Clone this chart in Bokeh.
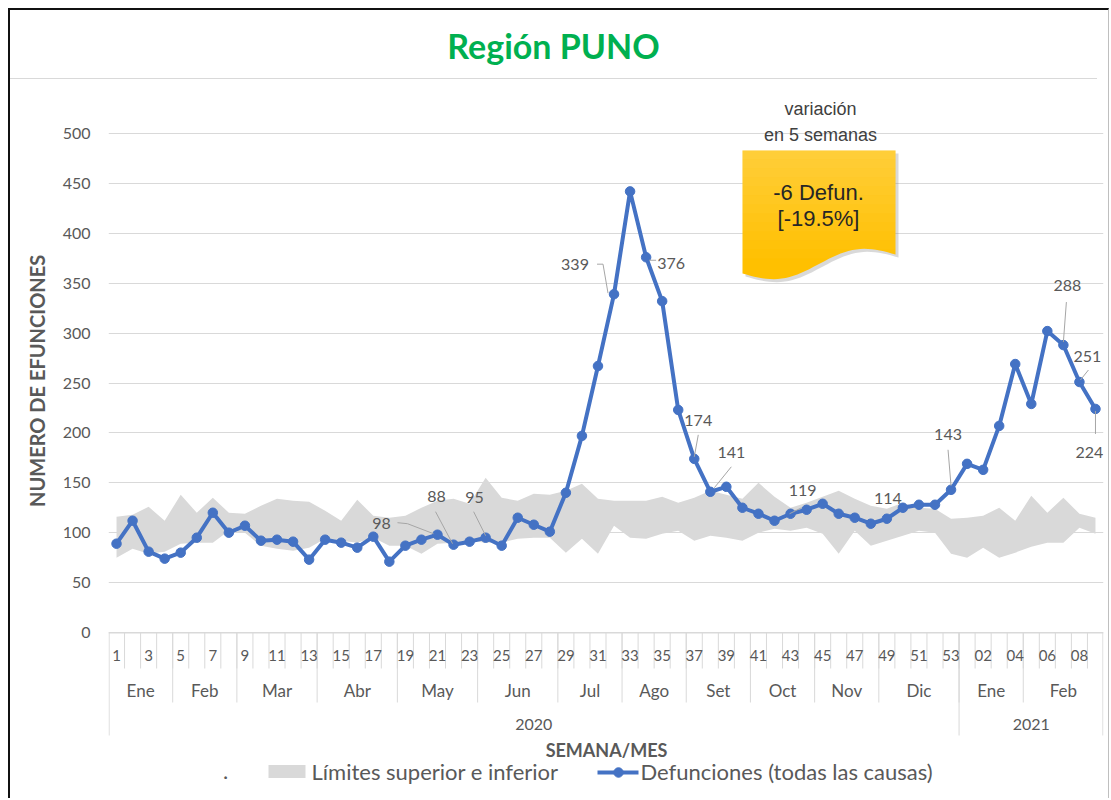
import numpy as np
from bokeh.plotting import figure
from bokeh.models import Range1d, FixedTicker, ColumnDataSource, LabelSet, Div, Title
from bokeh.layouts import column
from bokeh.embed import file_html
from bokeh.resources import INLINE
from bokeh.core.properties import value

# ---------------- data ----------------
week_labels = [str(i) for i in range(1, 54)] + ["%02d" % i for i in range(1, 10)]
month_names = ["Ene", "Feb", "Mar", "Abr", "May", "Jun", "Jul", "Ago", "Set", "Oct", "Nov", "Dic", "Ene", "Feb"]
month_weeks = [4, 4, 5, 5, 5, 5, 4, 4, 4, 4, 4, 5, 4, 5]
year_names = ["2020", "2021"]
year_weeks = [53, 9]

defunciones = [89, 112, 81, 74, 80, 95, 120, 100, 107, 92,
               93, 91, 73, 93, 90, 85, 96, 71, 87, 93,
               98, 88, 91, 95, 87, 115, 108, 101, 140, 197,
               267, 339, 442, 376, 332, 223, 174, 141, 146, 125,
               119, 112, 119, 123, 129, 119, 115, 109, 114, 125,
               128, 128, 143, 169, 163, 207, 269, 229, 302, 288,
               251, 224]
limite_superior = [116, 118, 126, 112, 138, 120, 135, 120, 119, 127,
                   134, 132, 131, 122, 112, 133, 117, 115, 117, 125,
                   132, 134, 129, 155, 135, 132, 139, 138, 142, 149,
                   134, 132, 132, 132, 136, 130, 135, 142, 138, 134,
                   150, 136, 125, 130, 136, 142, 134, 127, 124, 130,
                   125, 124, 114, 115, 117, 125, 112, 137, 120, 135,
                   119, 115]
limite_inferior = [75, 84, 79, 81, 89, 90, 90, 102, 100, 87,
                   84, 82, 85, 94, 92, 90, 95, 87, 87, 79,
                   89, 90, 92, 90, 90, 94, 95, 95, 80, 94,
                   79, 107, 95, 94, 99, 102, 92, 97, 95, 92,
                   100, 104, 102, 105, 99, 79, 102, 87, 92, 97,
                   102, 100, 79, 75, 85, 75, 80, 86, 90, 90,
                   105, 99]
labelled_weeks = [21, 22, 24, 32, 34, 37, 38, 43, 49, 53, 60, 61, 62]

title_text = "Región PUNO"
y_title = "NUMERO DE EFUNCIONES"
x_title = "SEMANA/MES"
legend_labels = ["Límites superior e inferior", "Defunciones (todas las causas)"]
callout_head = ["variación", "en 5 semanas"]
callout_body = ["-6 Defun.", "[-19.5%]"]

# ---------------- styling / layout ----------------
# label offsets in screen px (right +, up +) relative to the labelled point
label_dx = [-56, -17, -11, -39, 25, 4, 21, 12, 1, -3, 4, 8, -6]
label_dy = [11, 48, 40, 30, -6, 38, 39, 23, 20, 55, 60, 26, -44]
leader_px = [
    [(-40, 12), (-30, 11), (-4, 1)],
    [(-18, 33), (-1, 1)],
    [(-12, 26), (0, 2)],
    [(-17, 30), (-11, 30), (-6, 1)],
    [(3, -3), (10, -3)],
    [(4, 24), (0, 2)],
    [(21, 25), (4, 4)],
    [(11, 6), (-1, 0)],
    [],
    [(-3, 40), (0, 4)],
    [(3, 43), (0, 3)],
    [(9, 12), (1, 2)],
    [(0, -25), (0, -2)],
]

N = len(defunciones)
weeks = list(range(1, N + 1))
LEFT, RIGHT_PAD, FRAME_W = 98, 5, 995
W = LEFT + FRAME_W + RIGHT_PAD
PXW = FRAME_W / N          # px per week
PXH = 499 / 500            # px per death
X0 = 108                   # page x of frame left
Y0 = 632                   # page y of value 0
FIG_TOP = 80               # page y where figure starts
FIG_H = 718

def xd(px):
    return (px - X0) / PXW + 0.5

def yd(py):
    return (Y0 - py) / PXH

GREY_TXT = "#595959"
FONT = "Lato"
SEP = "#d9d9d9"

p = figure(width=W, height=FIG_H,
           x_range=Range1d(0.5, N + 0.5),
           y_range=Range1d(yd(FIG_TOP + FIG_H), yd(FIG_TOP)),
           x_axis_location=None, output_backend="svg", toolbar_location=None,
           min_border_left=LEFT, min_border_right=RIGHT_PAD,
           min_border_top=0, min_border_bottom=0)
p.outline_line_color = None
p.background_fill_color = "white"
p.border_fill_color = "white"
p.xgrid.visible = False
ticks = list(range(0, 501, 50))
p.ygrid.ticker = FixedTicker(ticks=ticks)
p.ygrid.grid_line_color = SEP
p.ygrid.grid_line_width = 1
ya = p.yaxis[0]
ya.ticker = FixedTicker(ticks=ticks)
ya.axis_line_color = None
ya.major_tick_line_color = None
ya.minor_tick_line_color = None
ya.major_tick_out = 0
ya.major_tick_in = 0
ya.major_label_standoff = 18
ya.major_label_text_font = FONT
ya.major_label_text_font_size = "16px"
ya.major_label_text_color = GREY_TXT

# y-axis title centred on the 0..500 plot area (not on the whole frame)
TITLE_LEN = 248
plot_mid = (Y0 + (Y0 - 500 * PXH)) / 2
title_bottom = plot_mid + TITLE_LEN / 2
p.add_layout(Title(text=y_title, align="left", offset=(FIG_TOP + FIG_H) - title_bottom,
                   text_font=FONT, text_font_size="20px", text_font_style="bold",
                   text_color=GREY_TXT, standoff=22), "left")

# ---- data marks ----
src = ColumnDataSource(dict(x=weeks, y=defunciones, lo=limite_inferior, hi=limite_superior))
p.varea(x="x", y1="lo", y2="hi", source=src, fill_color="#d9d9d9", fill_alpha=1.0)
p.line(x="x", y="y", source=src, line_color="#4472C4", line_width=4, line_join="round")
p.scatter(x="x", y="y", source=src, size=9.5, fill_color="#4472C4", line_color="#4472C4")

# leader lines
lx, ly = [], []
for w, pts in zip(labelled_weeks, leader_px):
    if not pts:
        continue
    v = defunciones[w - 1]
    lx.append([w + dx / PXW for dx, dy in pts])
    ly.append([v + dy / PXH for dx, dy in pts])
p.multi_line(xs=lx, ys=ly, line_color="#a6a6a6", line_width=1)

lab_src = ColumnDataSource(dict(
    x=labelled_weeks,
    y=[defunciones[w - 1] for w in labelled_weeks],
    t=[str(defunciones[w - 1]) for w in labelled_weeks],
    dx=label_dx, dy=label_dy))
p.add_layout(LabelSet(x="x", y="y", text="t", x_offset="dx", y_offset="dy", source=lab_src,
                      text_align="center", text_baseline="middle",
                      text_font=value(FONT), text_font_size="16px", text_color=GREY_TXT))

# ---- callout box (decoration) ----
s = np.linspace(0, 1, 40)
wave_x = 742 + 153 * s
wave_y = 273 + (254 - 273) * s + 10 * np.sin(2 * np.pi * s)
box_px_x = [742, 895] + list(wave_x[::-1])
box_px_y = [150, 150] + list(wave_y[::-1])
p.patch([xd(x + 3) for x in box_px_x], [yd(y + 3) for y in box_px_y],
        fill_color="#808080", fill_alpha=0.3, line_color=None)
p.patch([xd(x) for x in box_px_x], [yd(y) for y in box_px_y],
        fill_color="#FFC000", line_color=None)
nst = 12
for i in range(nst):
    y_a = 150 + i * 9
    p.quad(left=xd(742), right=xd(895), top=yd(y_a), bottom=yd(y_a + 9),
           fill_color="white", fill_alpha=0.22 * (1 - i / nst), line_color=None)
p.text(x=[xd(818), xd(818)], y=[yd(192), yd(218)], text=callout_body,
       text_align="center", text_baseline="middle", text_font=value("Liberation Sans"),
       text_font_size="22px", text_color="#262626")
p.text(x=[xd(820), xd(820)], y=[yd(108), yd(134)], text=callout_head,
       text_align="center", text_baseline="middle", text_font=value("Liberation Sans"),
       text_font_size="18px", text_color="#404040")

# ---- category axis block ----
def yo(off):
    return yd(Y0 + off)

edge = 0.6 / PXW
p.segment(x0=[0.5], y0=[yo(0.5)], x1=[N + 0.5], y1=[yo(0.5)], line_color=SEP, line_width=1)
wk_b = [k + 0.5 for k in range(1, N)]
p.segment(x0=wk_b, y0=[yo(0)] * len(wk_b), x1=wk_b, y1=[yo(36)] * len(wk_b), line_color=SEP)
mb = list(np.cumsum(month_weeks)[:-1] + 0.5)
p.segment(x0=mb, y0=[yo(0)] * len(mb), x1=mb, y1=[yo(70)] * len(mb), line_color=SEP)
yb = [0.5 + edge] + list(np.cumsum(year_weeks)[:-1] + 0.5) + [N + 0.5 - edge]
p.segment(x0=yb, y0=[yo(0)] * len(yb), x1=yb, y1=[yo(103)] * len(yb), line_color=SEP)

wx = [i + 1 for i in range(N) if i % 2 == 0]
wt = [week_labels[i] for i in range(N) if i % 2 == 0]
p.text(x=wx, y=[yo(23)] * len(wx), text=wt, text_align="center", text_baseline="middle",
       text_font=value(FONT), text_font_size="15px", text_color=GREY_TXT)
starts = np.concatenate([[0], np.cumsum(month_weeks)[:-1]])
mx = [0.5 + st + n / 2 for st, n in zip(starts, month_weeks)]
p.text(x=mx, y=[yo(58)] * len(mx), text=month_names, text_align="center", text_baseline="middle",
       text_font=value(FONT), text_font_size="17px", text_color=GREY_TXT)
ystarts = np.concatenate([[0], np.cumsum(year_weeks)[:-1]])
yx = [0.5 + st + n / 2 for st, n in zip(ystarts, year_weeks)]
p.text(x=yx, y=[yo(92)] * len(yx), text=year_names, text_align="center", text_baseline="middle",
       text_font=value(FONT), text_font_size="16px", text_color=GREY_TXT)
p.text(x=[xd(606)], y=[yo(117)], text=[x_title], text_align="center", text_baseline="middle",
       text_font=value(FONT), text_font_size="18px", text_font_style="bold", text_color=GREY_TXT)

# ---- legend ----
LG = 139
p.text(x=[xd(225)], y=[yo(LG)], text=["."], text_align="center", text_baseline="middle",
       text_font=value(FONT), text_font_size="22px", text_color=GREY_TXT)
p.rect(x=[xd(286.5)], y=[yo(LG)], width=37 / PXW, height=13 / PXH, fill_color="#d9d9d9", line_color=None)
p.text(x=[xd(311)], y=[yo(LG)], text=[legend_labels[0]], text_align="left", text_baseline="middle",
       text_font=value(FONT), text_font_size="22px", text_color=GREY_TXT)
p.line(x=[xd(597), xd(638)], y=[yo(LG + 1), yo(LG + 1)], line_color="#4472C4", line_width=4)
p.scatter(x=[xd(618)], y=[yo(LG + 1)], size=9.5, fill_color="#4472C4", line_color="#4472C4")
p.text(x=[xd(640)], y=[yo(LG)], text=[legend_labels[1]], text_align="left", text_baseline="middle",
       text_font=value(FONT), text_font_size="22px", text_color=GREY_TXT)

# ---------------- title ----------------
title = Div(text=('<div style="width:%dpx;height:69px;line-height:72px;text-align:center;'
                  'font-family:Lato;font-size:34px;font-weight:bold;color:#00B050;'
                  'border-bottom:1px solid #d9d9d9;">%s</div>'
                  % (W - 11, title_text)),
            width=W, height=70, margin=0)

layout = column(title, p, spacing=0, margin=(8, 0, 0, 8),
                styles={"border-left": "2px solid #111111", "border-top": "2px solid #111111",
                        "border-right": "1px solid #bfbfbf"})

open("out.html", "w").write(file_html(layout, INLINE))
